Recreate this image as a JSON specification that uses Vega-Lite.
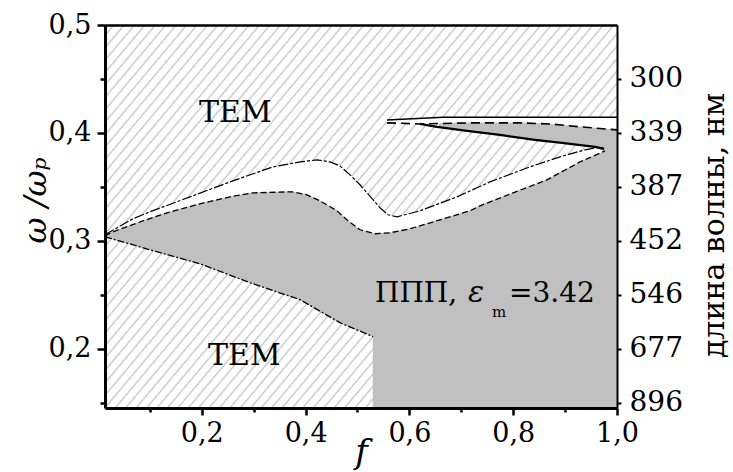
{
"$schema": "https://vega.github.io/schema/vega-lite/v6.json",
"width": 512, "height": 383,
"autosize": {"type": "none"},
"padding": {"left": 105, "top": 25, "right": 116, "bottom": 64},
"background": "#ffffff",
"config": {"view": {"stroke": null}, "font": "DejaVu Serif"},
"datasets": {
"gray": [
{"i":0,"f":0.0135,"w":0.3046},{"i":1,"f":0.0289,"w":0.3083},{"i":2,"f":0.0867,"w":0.3185},{"i":3,"f":0.1329,"w":0.3259},{"i":4,"f":0.1965,"w":0.3343},{"i":5,"f":0.2543,"w":0.3407},{"i":6,"f":0.2987,"w":0.3444},{"i":7,"f":0.3738,"w":0.3454},{"i":8,"f":0.4027,"w":0.3426},{"i":9,"f":0.4277,"w":0.3370},{"i":10,"f":0.4605,"w":0.3278},{"i":11,"f":0.4817,"w":0.3185},{"i":12,"f":0.5048,"w":0.3102},{"i":13,"f":0.5337,"w":0.3065},{"i":14,"f":0.5626,"w":0.3074},{"i":15,"f":0.6012,"w":0.3111},{"i":16,"f":0.6590,"w":0.3194},{"i":17,"f":0.7168,"w":0.3278},{"i":18,"f":0.7360,"w":0.3324},{"i":19,"f":0.7996,"w":0.3444},{"i":20,"f":0.8651,"w":0.3565},{"i":21,"f":0.9287,"w":0.3731},{"i":22,"f":0.9769,"w":0.3833},
{"i":23,"f":0.9576,"w":0.3870},{"i":24,"f":0.8940,"w":0.3907},{"i":25,"f":0.8420,"w":0.3935},{"i":26,"f":0.7746,"w":0.3981},{"i":27,"f":0.7110,"w":0.4019},{"i":28,"f":0.6532,"w":0.4056},
{"i":29,"f":0.6590,"w":0.4090},{"i":30,"f":0.7168,"w":0.4093},{"i":31,"f":0.8131,"w":0.4093},{"i":32,"f":0.8709,"w":0.4083},{"i":33,"f":0.9287,"w":0.4056},{"i":34,"f":1.0,"w":0.4028},
{"i":35,"f":1.0,"w":0.145},{"i":36,"f":0.5299,"w":0.145},{"i":37,"f":0.5299,"w":0.2111},{"i":38,"f":0.4663,"w":0.2241},{"i":39,"f":0.3892,"w":0.2454},{"i":40,"f":0.2929,"w":0.2611},{"i":41,"f":0.1965,"w":0.2787},{"i":42,"f":0.1002,"w":0.2917},{"i":43,"f":0.0135,"w":0.3037}
],
"white": [
{"i":0,"f":0.0135,"w":0.3056},{"i":1,"f":0.0674,"w":0.3204},{"i":2,"f":0.1002,"w":0.3269},{"i":3,"f":0.1773,"w":0.3407},{"i":4,"f":0.2543,"w":0.3546},{"i":5,"f":0.3372,"w":0.3685},{"i":6,"f":0.3892,"w":0.3731},{"i":7,"f":0.4220,"w":0.3750},{"i":8,"f":0.4470,"w":0.3731},{"i":9,"f":0.4663,"w":0.3694},{"i":10,"f":0.4855,"w":0.3611},{"i":11,"f":0.5048,"w":0.3519},{"i":12,"f":0.5183,"w":0.3444},{"i":13,"f":0.5434,"w":0.3306},{"i":14,"f":0.5588,"w":0.3241},{"i":15,"f":0.5761,"w":0.3222},{"i":16,"f":0.6204,"w":0.3278},{"i":17,"f":0.6917,"w":0.3407},{"i":18,"f":0.7553,"w":0.3546},{"i":19,"f":0.8324,"w":0.3685},{"i":20,"f":0.8902,"w":0.3778},{"i":21,"f":0.9383,"w":0.3843},{"i":22,"f":0.9672,"w":0.3870},
{"i":23,"f":0.9769,"w":0.3833},{"i":24,"f":0.9287,"w":0.3731},{"i":25,"f":0.8651,"w":0.3565},{"i":26,"f":0.7996,"w":0.3444},{"i":27,"f":0.7360,"w":0.3324},{"i":28,"f":0.7168,"w":0.3278},{"i":29,"f":0.6590,"w":0.3194},{"i":30,"f":0.6012,"w":0.3111},{"i":31,"f":0.5626,"w":0.3074},{"i":32,"f":0.5337,"w":0.3065},{"i":33,"f":0.5048,"w":0.3102},{"i":34,"f":0.4817,"w":0.3185},{"i":35,"f":0.4605,"w":0.3278},{"i":36,"f":0.4277,"w":0.3370},{"i":37,"f":0.4027,"w":0.3426},{"i":38,"f":0.3738,"w":0.3454},{"i":39,"f":0.2987,"w":0.3444},{"i":40,"f":0.2543,"w":0.3407},{"i":41,"f":0.1965,"w":0.3343},{"i":42,"f":0.1329,"w":0.3259},{"i":43,"f":0.0867,"w":0.3185},{"i":44,"f":0.0289,"w":0.3083},{"i":45,"f":0.0135,"w":0.3046}
],
"wedge": [
{"i":0,"f":0.5568,"w":0.4120},{"i":1,"f":0.6647,"w":0.4144},{"i":2,"f":1.0,"w":0.4144},{"i":3,"f":1.0,"w":0.4028},{"i":4,"f":0.9287,"w":0.4056},{"i":5,"f":0.8709,"w":0.4083},{"i":6,"f":0.8131,"w":0.4093},{"i":7,"f":0.7168,"w":0.4093},{"i":8,"f":0.6204,"w":0.4083},{"i":9,"f":0.5568,"w":0.4093}
],
"lines": [
{"c":"U","i":0,"f":0.0135,"w":0.3056},{"c":"U","i":1,"f":0.0674,"w":0.3204},{"c":"U","i":2,"f":0.1002,"w":0.3269},{"c":"U","i":3,"f":0.1773,"w":0.3407},{"c":"U","i":4,"f":0.2543,"w":0.3546},{"c":"U","i":5,"f":0.3372,"w":0.3685},{"c":"U","i":6,"f":0.3892,"w":0.3731},{"c":"U","i":7,"f":0.4220,"w":0.3750},{"c":"U","i":8,"f":0.4470,"w":0.3731},{"c":"U","i":9,"f":0.4663,"w":0.3694},{"c":"U","i":10,"f":0.4855,"w":0.3611},{"c":"U","i":11,"f":0.5048,"w":0.3519},{"c":"U","i":12,"f":0.5183,"w":0.3444},{"c":"U","i":13,"f":0.5434,"w":0.3306},{"c":"U","i":14,"f":0.5588,"w":0.3241},{"c":"U","i":15,"f":0.5761,"w":0.3222},{"c":"U","i":16,"f":0.6204,"w":0.3278},{"c":"U","i":17,"f":0.6917,"w":0.3407},{"c":"U","i":18,"f":0.7553,"w":0.3546},{"c":"U","i":19,"f":0.8324,"w":0.3685},{"c":"U","i":20,"f":0.8902,"w":0.3778},{"c":"U","i":21,"f":0.9383,"w":0.3843},{"c":"U","i":22,"f":0.9672,"w":0.3870},{"c":"U","i":23,"f":0.9750,"w":0.3852},
{"c":"G","i":0,"f":0.0135,"w":0.3046},{"c":"G","i":1,"f":0.0289,"w":0.3083},{"c":"G","i":2,"f":0.0867,"w":0.3185},{"c":"G","i":3,"f":0.1329,"w":0.3259},{"c":"G","i":4,"f":0.1965,"w":0.3343},{"c":"G","i":5,"f":0.2543,"w":0.3407},{"c":"G","i":6,"f":0.2987,"w":0.3444},{"c":"G","i":7,"f":0.3738,"w":0.3454},{"c":"G","i":8,"f":0.4027,"w":0.3426},{"c":"G","i":9,"f":0.4277,"w":0.3370},{"c":"G","i":10,"f":0.4605,"w":0.3278},{"c":"G","i":11,"f":0.4817,"w":0.3185},{"c":"G","i":12,"f":0.5048,"w":0.3102},{"c":"G","i":13,"f":0.5337,"w":0.3065},{"c":"G","i":14,"f":0.5626,"w":0.3074},{"c":"G","i":15,"f":0.6012,"w":0.3111},{"c":"G","i":16,"f":0.6590,"w":0.3194},{"c":"G","i":17,"f":0.7168,"w":0.3278},{"c":"G","i":18,"f":0.7360,"w":0.3324},{"c":"G","i":19,"f":0.7996,"w":0.3444},{"c":"G","i":20,"f":0.8651,"w":0.3565},{"c":"G","i":21,"f":0.9287,"w":0.3731},{"c":"G","i":22,"f":0.9769,"w":0.3833},
{"c":"L","i":0,"f":0.0135,"w":0.3037},{"c":"L","i":1,"f":0.1002,"w":0.2917},{"c":"L","i":2,"f":0.1965,"w":0.2787},{"c":"L","i":3,"f":0.2929,"w":0.2611},{"c":"L","i":4,"f":0.3892,"w":0.2454},{"c":"L","i":5,"f":0.4663,"w":0.2241},{"c":"L","i":6,"f":0.5299,"w":0.2111},
{"c":"T","i":0,"f":0.9750,"w":0.3852},{"c":"T","i":1,"f":0.9576,"w":0.3870},{"c":"T","i":2,"f":0.8940,"w":0.3907},{"c":"T","i":3,"f":0.8420,"w":0.3935},{"c":"T","i":4,"f":0.7746,"w":0.3981},{"c":"T","i":5,"f":0.7110,"w":0.4019},{"c":"T","i":6,"f":0.6532,"w":0.4056},{"c":"T","i":7,"f":0.6204,"w":0.4083},
{"c":"H","i":0,"f":0.5568,"w":0.4120},{"c":"H","i":1,"f":0.6647,"w":0.4144},{"c":"H","i":2,"f":1.0,"w":0.4144},
{"c":"D","i":0,"f":0.5568,"w":0.4093},{"c":"D","i":1,"f":0.6204,"w":0.4083},{"c":"D","i":2,"f":0.7168,"w":0.4093},{"c":"D","i":3,"f":0.8131,"w":0.4093},{"c":"D","i":4,"f":0.8709,"w":0.4083},{"c":"D","i":5,"f":0.9287,"w":0.4056},{"c":"D","i":6,"f":1.0,"w":0.4028}
],
"labels": [
{"k":"a","t":"TEM","f":0.1946,"w":0.4102},
{"k":"a","t":"TEM","f":0.212,"w":0.1852},
{"k":"n","t":"ППП,","f":0.5337,"w":0.2435},
{"k":"e","t":"ε","f":0.7130,"w":0.2435},
{"k":"s","t":"m","f":0.7590,"w":0.2296},
{"k":"n","t":"=3.42","f":0.7920,"w":0.2435}
]
},
"resolve": {"axis": {"x": "independent", "y": "independent"}},
"encoding": {
"x": {"field": "f", "type": "quantitative", "scale": {"domain": [0.0135, 1], "nice": false, "zero": false}, "axis": null},
"y": {"field": "w", "type": "quantitative", "scale": {"domain": [0.145, 0.5], "nice": false, "zero": false}, "axis": null}
},
"layer": [
{
"data": {"values": [{"f": 0.0135, "f2": 1.0, "w": 0.145, "w2": 0.5}]},
"mark": {"type": "rect", "fill": {"gradient": "linear", "x1": 0, "y1": 0, "x2": 1.1676, "y2": 0.7333, "stops": [
{"offset":0,"color":"#fff"},{"offset":0.0085,"color":"#fff"},{"offset":0.0105,"color":"#c4c4c4"},
{"offset":0.0125,"color":"#fff"},{"offset":0.021,"color":"#fff"},{"offset":0.023,"color":"#c4c4c4"},
{"offset":0.025,"color":"#fff"},{"offset":0.0335,"color":"#fff"},{"offset":0.0355,"color":"#c4c4c4"},
{"offset":0.0375,"color":"#fff"},{"offset":0.046,"color":"#fff"},{"offset":0.048,"color":"#c4c4c4"},
{"offset":0.05,"color":"#fff"},{"offset":0.0585,"color":"#fff"},{"offset":0.0605,"color":"#c4c4c4"},
{"offset":0.0625,"color":"#fff"},{"offset":0.071,"color":"#fff"},{"offset":0.073,"color":"#c4c4c4"},
{"offset":0.075,"color":"#fff"},{"offset":0.0835,"color":"#fff"},{"offset":0.0855,"color":"#c4c4c4"},
{"offset":0.0875,"color":"#fff"},{"offset":0.096,"color":"#fff"},{"offset":0.098,"color":"#c4c4c4"},
{"offset":0.1,"color":"#fff"},{"offset":0.1085,"color":"#fff"},{"offset":0.1105,"color":"#c4c4c4"},
{"offset":0.1125,"color":"#fff"},{"offset":0.121,"color":"#fff"},{"offset":0.123,"color":"#c4c4c4"},
{"offset":0.125,"color":"#fff"},{"offset":0.1335,"color":"#fff"},{"offset":0.1355,"color":"#c4c4c4"},
{"offset":0.1375,"color":"#fff"},{"offset":0.146,"color":"#fff"},{"offset":0.148,"color":"#c4c4c4"},
{"offset":0.15,"color":"#fff"},{"offset":0.1585,"color":"#fff"},{"offset":0.1605,"color":"#c4c4c4"},
{"offset":0.1625,"color":"#fff"},{"offset":0.171,"color":"#fff"},{"offset":0.173,"color":"#c4c4c4"},
{"offset":0.175,"color":"#fff"},{"offset":0.1835,"color":"#fff"},{"offset":0.1855,"color":"#c4c4c4"},
{"offset":0.1875,"color":"#fff"},{"offset":0.196,"color":"#fff"},{"offset":0.198,"color":"#c4c4c4"},
{"offset":0.2,"color":"#fff"},{"offset":0.2085,"color":"#fff"},{"offset":0.2105,"color":"#c4c4c4"},
{"offset":0.2125,"color":"#fff"},{"offset":0.221,"color":"#fff"},{"offset":0.223,"color":"#c4c4c4"},
{"offset":0.225,"color":"#fff"},{"offset":0.2335,"color":"#fff"},{"offset":0.2355,"color":"#c4c4c4"},
{"offset":0.2375,"color":"#fff"},{"offset":0.246,"color":"#fff"},{"offset":0.248,"color":"#c4c4c4"},
{"offset":0.25,"color":"#fff"},{"offset":0.2585,"color":"#fff"},{"offset":0.2605,"color":"#c4c4c4"},
{"offset":0.2625,"color":"#fff"},{"offset":0.271,"color":"#fff"},{"offset":0.273,"color":"#c4c4c4"},
{"offset":0.275,"color":"#fff"},{"offset":0.2835,"color":"#fff"},{"offset":0.2855,"color":"#c4c4c4"},
{"offset":0.2875,"color":"#fff"},{"offset":0.296,"color":"#fff"},{"offset":0.298,"color":"#c4c4c4"},
{"offset":0.3,"color":"#fff"},{"offset":0.3085,"color":"#fff"},{"offset":0.3105,"color":"#c4c4c4"},
{"offset":0.3125,"color":"#fff"},{"offset":0.321,"color":"#fff"},{"offset":0.323,"color":"#c4c4c4"},
{"offset":0.325,"color":"#fff"},{"offset":0.3335,"color":"#fff"},{"offset":0.3355,"color":"#c4c4c4"},
{"offset":0.3375,"color":"#fff"},{"offset":0.346,"color":"#fff"},{"offset":0.348,"color":"#c4c4c4"},
{"offset":0.35,"color":"#fff"},{"offset":0.3585,"color":"#fff"},{"offset":0.3605,"color":"#c4c4c4"},
{"offset":0.3625,"color":"#fff"},{"offset":0.371,"color":"#fff"},{"offset":0.373,"color":"#c4c4c4"},
{"offset":0.375,"color":"#fff"},{"offset":0.3835,"color":"#fff"},{"offset":0.3855,"color":"#c4c4c4"},
{"offset":0.3875,"color":"#fff"},{"offset":0.396,"color":"#fff"},{"offset":0.398,"color":"#c4c4c4"},
{"offset":0.4,"color":"#fff"},{"offset":0.4085,"color":"#fff"},{"offset":0.4105,"color":"#c4c4c4"},
{"offset":0.4125,"color":"#fff"},{"offset":0.421,"color":"#fff"},{"offset":0.423,"color":"#c4c4c4"},
{"offset":0.425,"color":"#fff"},{"offset":0.4335,"color":"#fff"},{"offset":0.4355,"color":"#c4c4c4"},
{"offset":0.4375,"color":"#fff"},{"offset":0.446,"color":"#fff"},{"offset":0.448,"color":"#c4c4c4"},
{"offset":0.45,"color":"#fff"},{"offset":0.4585,"color":"#fff"},{"offset":0.4605,"color":"#c4c4c4"},
{"offset":0.4625,"color":"#fff"},{"offset":0.471,"color":"#fff"},{"offset":0.473,"color":"#c4c4c4"},
{"offset":0.475,"color":"#fff"},{"offset":0.4835,"color":"#fff"},{"offset":0.4855,"color":"#c4c4c4"},
{"offset":0.4875,"color":"#fff"},{"offset":0.496,"color":"#fff"},{"offset":0.498,"color":"#c4c4c4"},
{"offset":0.5,"color":"#fff"},{"offset":0.5085,"color":"#fff"},{"offset":0.5105,"color":"#c4c4c4"},
{"offset":0.5125,"color":"#fff"},{"offset":0.521,"color":"#fff"},{"offset":0.523,"color":"#c4c4c4"},
{"offset":0.525,"color":"#fff"},{"offset":0.5335,"color":"#fff"},{"offset":0.5355,"color":"#c4c4c4"},
{"offset":0.5375,"color":"#fff"},{"offset":0.546,"color":"#fff"},{"offset":0.548,"color":"#c4c4c4"},
{"offset":0.55,"color":"#fff"},{"offset":0.5585,"color":"#fff"},{"offset":0.5605,"color":"#c4c4c4"},
{"offset":0.5625,"color":"#fff"},{"offset":0.571,"color":"#fff"},{"offset":0.573,"color":"#c4c4c4"},
{"offset":0.575,"color":"#fff"},{"offset":0.5835,"color":"#fff"},{"offset":0.5855,"color":"#c4c4c4"},
{"offset":0.5875,"color":"#fff"},{"offset":0.596,"color":"#fff"},{"offset":0.598,"color":"#c4c4c4"},
{"offset":0.6,"color":"#fff"},{"offset":0.6085,"color":"#fff"},{"offset":0.6105,"color":"#c4c4c4"},
{"offset":0.6125,"color":"#fff"},{"offset":0.621,"color":"#fff"},{"offset":0.623,"color":"#c4c4c4"},
{"offset":0.625,"color":"#fff"},{"offset":0.6335,"color":"#fff"},{"offset":0.6355,"color":"#c4c4c4"},
{"offset":0.6375,"color":"#fff"},{"offset":0.646,"color":"#fff"},{"offset":0.648,"color":"#c4c4c4"},
{"offset":0.65,"color":"#fff"},{"offset":0.6585,"color":"#fff"},{"offset":0.6605,"color":"#c4c4c4"},
{"offset":0.6625,"color":"#fff"},{"offset":0.671,"color":"#fff"},{"offset":0.673,"color":"#c4c4c4"},
{"offset":0.675,"color":"#fff"},{"offset":0.6835,"color":"#fff"},{"offset":0.6855,"color":"#c4c4c4"},
{"offset":0.6875,"color":"#fff"},{"offset":0.696,"color":"#fff"},{"offset":0.698,"color":"#c4c4c4"},
{"offset":0.7,"color":"#fff"},{"offset":0.7085,"color":"#fff"},{"offset":0.7105,"color":"#c4c4c4"},
{"offset":0.7125,"color":"#fff"},{"offset":0.721,"color":"#fff"},{"offset":0.723,"color":"#c4c4c4"},
{"offset":0.725,"color":"#fff"},{"offset":0.7335,"color":"#fff"},{"offset":0.7355,"color":"#c4c4c4"},
{"offset":0.7375,"color":"#fff"},{"offset":0.746,"color":"#fff"},{"offset":0.748,"color":"#c4c4c4"},
{"offset":0.75,"color":"#fff"},{"offset":0.7585,"color":"#fff"},{"offset":0.7605,"color":"#c4c4c4"},
{"offset":0.7625,"color":"#fff"},{"offset":0.771,"color":"#fff"},{"offset":0.773,"color":"#c4c4c4"},
{"offset":0.775,"color":"#fff"},{"offset":0.7835,"color":"#fff"},{"offset":0.7855,"color":"#c4c4c4"},
{"offset":0.7875,"color":"#fff"},{"offset":0.796,"color":"#fff"},{"offset":0.798,"color":"#c4c4c4"},
{"offset":0.8,"color":"#fff"},{"offset":0.8085,"color":"#fff"},{"offset":0.8105,"color":"#c4c4c4"},
{"offset":0.8125,"color":"#fff"},{"offset":0.821,"color":"#fff"},{"offset":0.823,"color":"#c4c4c4"},
{"offset":0.825,"color":"#fff"},{"offset":0.8335,"color":"#fff"},{"offset":0.8355,"color":"#c4c4c4"},
{"offset":0.8375,"color":"#fff"},{"offset":0.846,"color":"#fff"},{"offset":0.848,"color":"#c4c4c4"},
{"offset":0.85,"color":"#fff"},{"offset":0.8585,"color":"#fff"},{"offset":0.8605,"color":"#c4c4c4"},
{"offset":0.8625,"color":"#fff"},{"offset":0.871,"color":"#fff"},{"offset":0.873,"color":"#c4c4c4"},
{"offset":0.875,"color":"#fff"},{"offset":0.8835,"color":"#fff"},{"offset":0.8855,"color":"#c4c4c4"},
{"offset":0.8875,"color":"#fff"},{"offset":0.896,"color":"#fff"},{"offset":0.898,"color":"#c4c4c4"},
{"offset":0.9,"color":"#fff"},{"offset":0.9085,"color":"#fff"},{"offset":0.9105,"color":"#c4c4c4"},
{"offset":0.9125,"color":"#fff"},{"offset":0.921,"color":"#fff"},{"offset":0.923,"color":"#c4c4c4"},
{"offset":0.925,"color":"#fff"},{"offset":0.9335,"color":"#fff"},{"offset":0.9355,"color":"#c4c4c4"},
{"offset":0.9375,"color":"#fff"},{"offset":0.946,"color":"#fff"},{"offset":0.948,"color":"#c4c4c4"},
{"offset":0.95,"color":"#fff"},{"offset":0.9585,"color":"#fff"},{"offset":0.9605,"color":"#c4c4c4"},
{"offset":0.9625,"color":"#fff"},{"offset":0.971,"color":"#fff"},{"offset":0.973,"color":"#c4c4c4"},
{"offset":0.975,"color":"#fff"},{"offset":0.9835,"color":"#fff"},{"offset":0.9855,"color":"#c4c4c4"},
{"offset":0.9875,"color":"#fff"},{"offset":0.996,"color":"#fff"},{"offset":0.998,"color":"#c4c4c4"},
{"offset":1,"color":"#fff"}
]}},
"encoding": {"x2": {"field": "f2"}, "y2": {"field": "w2"}}
},
{
"data": {"name": "white"},
"mark": {"type": "line", "fill": "#ffffff", "stroke": "#ffffff", "strokeWidth": 0.5},
"encoding": {"order": {"field": "i", "type": "quantitative"}}
},
{
"data": {"name": "wedge"},
"mark": {"type": "line", "fill": "#ffffff", "stroke": "#ffffff", "strokeWidth": 0.5},
"encoding": {"order": {"field": "i", "type": "quantitative"}}
},
{
"data": {"name": "gray"},
"mark": {"type": "line", "fill": "#c0c0c0", "stroke": "#c0c0c0", "strokeWidth": 0.5},
"encoding": {
"x": {"field": "f", "type": "quantitative", "scale": {"domain": [0.0135, 1], "nice": false, "zero": false},
 "axis": {"orient": "bottom", "values": [0.1,0.2,0.3,0.4,0.5,0.6,0.7,0.8,0.9,1.0],
  "labelExpr": "round(datum.value*10)%2==0 ? replace(format(datum.value,'.1f'),'.',',') : ''",
  "tickSize": {"condition": {"test": "round(datum.value*10)%2==0", "value": 7}, "value": 4},
  "tickWidth": 2.5, "tickColor": "#000", "domainColor": "#000", "domainWidth": 3,
  "labelFont": "DejaVu Serif", "labelFontSize": 27, "labelColor": "#000", "labelPadding": 5,
  "labelFlush": false, "labelOverlap": false, "grid": false, "zindex": 1,
  "title": "f", "titleFont": "DejaVu Serif", "titleFontStyle": "italic", "titleFontWeight": "normal",
  "titleFontSize": 34, "titleColor": "#000", "titleY": 54, "titleBaseline": "alphabetic"}},
"y": {"field": "w", "type": "quantitative", "scale": {"domain": [0.145, 0.5], "nice": false, "zero": false},
 "axis": {"orient": "left", "values": [0.15,0.2,0.25,0.3,0.35,0.4,0.45,0.5],
  "labelExpr": "round(datum.value*100)%10==0 ? replace(format(datum.value,'.1f'),'.',',') : ''",
  "tickSize": {"condition": {"test": "round(datum.value*100)%10==0", "value": 8}, "value": 5},
  "tickWidth": 2.5, "tickColor": "#000", "domainColor": "#000", "domainWidth": 3,
  "labelFont": "DejaVu Serif", "labelFontSize": 27, "labelColor": "#000", "labelPadding": 6,
  "labelFlush": false, "labelOverlap": false, "grid": false, "zindex": 1,
  "title": "ω /ωₚ", "titleFont": "DejaVu Serif", "titleFontStyle": "italic", "titleFontWeight": "normal",
  "titleFontSize": 32, "titleColor": "#000", "titleAngle": 270, "titleX": -60, "titleY": 175,
  "titleBaseline": "alphabetic", "titleAlign": "center"}},
"order": {"field": "i", "type": "quantitative"}
}
},
{
"data": {"name": "lines"},
"transform": [{"filter": "datum.c == 'U'"}],
"mark": {"type": "line", "stroke": "#000", "strokeWidth": 1.2, "strokeDash": [10, 2, 3, 2]},
"encoding": {"order": {"field": "i", "type": "quantitative"}}
},
{
"data": {"name": "lines"},
"transform": [{"filter": "datum.c == 'G'"}],
"mark": {"type": "line", "stroke": "#000", "strokeWidth": 1.3, "strokeDash": [6, 3]},
"encoding": {"order": {"field": "i", "type": "quantitative"}}
},
{
"data": {"name": "lines"},
"transform": [{"filter": "datum.c == 'L'"}],
"mark": {"type": "line", "stroke": "#000", "strokeWidth": 1.3, "strokeDash": [7, 2, 2, 2]},
"encoding": {"order": {"field": "i", "type": "quantitative"}}
},
{
"data": {"name": "lines"},
"transform": [{"filter": "datum.c == 'T'"}],
"mark": {"type": "line", "stroke": "#000", "strokeWidth": 2.2},
"encoding": {"order": {"field": "i", "type": "quantitative"}}
},
{
"data": {"name": "lines"},
"transform": [{"filter": "datum.c == 'D'"}],
"mark": {"type": "line", "stroke": "#000", "strokeWidth": 1.6, "strokeDash": [9, 5]},
"encoding": {"order": {"field": "i", "type": "quantitative"}}
},
{
"data": {"name": "lines"},
"transform": [{"filter": "datum.c == 'H'"}],
"mark": {"type": "line", "stroke": "#000", "strokeWidth": 1.5},
"encoding": {
"x": {"field": "f", "type": "quantitative", "scale": {"domain": [0.0135, 1], "nice": false, "zero": false},
 "axis": {"orient": "top", "domain": true, "ticks": false, "labels": false, "title": null, "grid": false,
  "domainColor": "#000", "domainWidth": 2.5, "zindex": 1}},
"y": {"field": "w", "type": "quantitative", "scale": {"domain": [0.145, 0.5], "nice": false, "zero": false},
 "axis": {"orient": "right", "values": [0.15,0.2,0.25,0.3,0.35,0.4,0.45],
  "labelExpr": "round(datum.value*100)==15 ? '896' : round(datum.value*100)==20 ? '677' : round(datum.value*100)==25 ? '546' : round(datum.value*100)==30 ? '452' : round(datum.value*100)==35 ? '387' : round(datum.value*100)==40 ? '339' : '300'",
  "tickSize": 4, "tickWidth": 2, "tickColor": "#000", "domainColor": "#000", "domainWidth": 2,
  "labelFont": "DejaVu Serif", "labelFontSize": 28, "labelColor": "#000", "labelPadding": 8,
  "labelFlush": false, "labelOverlap": false, "grid": false, "zindex": 1,
  "title": "длина волны, нм", "titleFont": "DejaVu Serif", "titleFontWeight": "normal",
  "titleFontSize": 30, "titleColor": "#000", "titleAngle": 270, "titleX": 106, "titleY": 200,
  "titleBaseline": "alphabetic", "titleAlign": "center"}},
"order": {"field": "i", "type": "quantitative"}
}
},
{
"data": {"name": "labels"},
"transform": [{"filter": "datum.k == 'a'"}],
"mark": {"type": "text", "align": "left", "baseline": "alphabetic", "font": "DejaVu Serif", "fontSize": 30, "color": "#000"},
"encoding": {"text": {"field": "t"}}
},
{
"data": {"name": "labels"},
"transform": [{"filter": "datum.k == 'n'"}],
"mark": {"type": "text", "align": "left", "baseline": "alphabetic", "font": "DejaVu Serif", "fontSize": 28, "color": "#000"},
"encoding": {"text": {"field": "t"}}
},
{
"data": {"name": "labels"},
"transform": [{"filter": "datum.k == 'e'"}],
"mark": {"type": "text", "align": "left", "baseline": "alphabetic", "font": "DejaVu Serif", "fontStyle": "italic", "fontSize": 30, "color": "#000"},
"encoding": {"text": {"field": "t"}}
},
{
"data": {"name": "labels"},
"transform": [{"filter": "datum.k == 's'"}],
"mark": {"type": "text", "align": "left", "baseline": "alphabetic", "font": "DejaVu Serif", "fontSize": 15, "color": "#000"},
"encoding": {"text": {"field": "t"}}
}
]
}
